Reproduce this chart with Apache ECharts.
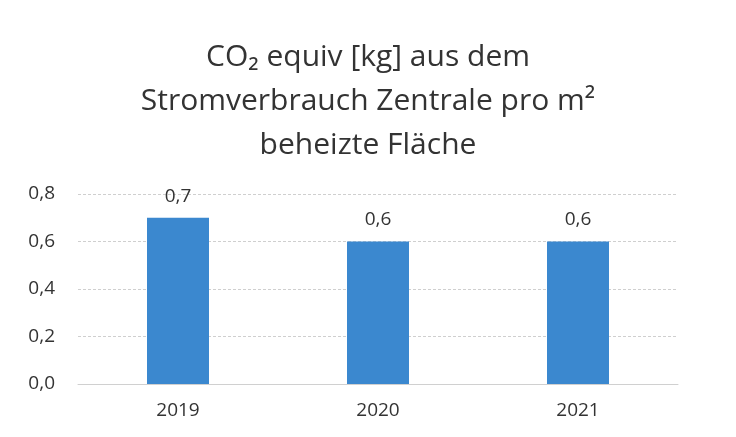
<!DOCTYPE html>
<html>
<head>
<meta charset="utf-8">
<script src="https://cdn.jsdelivr.net/npm/echarts@6/dist/echarts.min.js"></script>
<style>
  html, body { margin: 0; padding: 0; background: #fff; }
  #chart { width: 736px; height: 437px; }
</style>
</head>
<body>
<div id="chart"></div>
<script>
const years = ['2019', '2020', '2021'];
const co2Values = [0.7, 0.6, 0.6];
const titleLines = ['CO₂ equiv [kg] aus dem', 'Stromverbrauch Zentrale pro m²', 'beheizte Fläche'];

const chart = echarts.init(document.getElementById('chart'));
const fontFamily = 'Open Sans';

const option = {
  backgroundColor: '#ffffff',
  animation: false,
  title: {
    text: titleLines.join('\n'),
    left: 'center',
    top: 30,
    textStyle: {
      fontFamily,
      fontSize: 30,
      fontWeight: 'normal',
      color: '#333333',
      lineHeight: 44,
    },
  },
  grid: {
    left: 78,
    right: 58,
    top: 194,
    bottom: 53,
  },
  xAxis: {
    type: 'category',
    data: years,
    axisTick: { show: false },
    axisLine: { lineStyle: { color: '#d0d0d0', width: 1 } },
    axisLabel: {
      margin: 17,
      fontFamily,
      fontSize: 19,
      color: '#333333',
    },
  },
  yAxis: {
    type: 'value',
    min: 0,
    max: 0.8,
    interval: 0.2,
    axisLine: { show: false },
    axisTick: { show: false },
    splitLine: {
      lineStyle: { color: '#cfcfcf', type: [3, 2], width: 1 },
    },
    axisLabel: {
      margin: 23,
      fontFamily,
      fontSize: 19,
      color: '#333333',
      formatter: (v) => v.toFixed(1).replace('.', ','),
    },
  },
  series: [{
    type: 'bar',
    data: co2Values,
    barWidth: 62,
    itemStyle: { color: '#3b88cf' },
    label: {
      show: true,
      position: 'top',
      distance: 12,
      fontFamily,
      fontSize: 19,
      color: '#333333',
      formatter: (p) => p.value.toFixed(1).replace('.', ','),
    },
  }],
};

chart.setOption(option);
</script>
</body>
</html>
